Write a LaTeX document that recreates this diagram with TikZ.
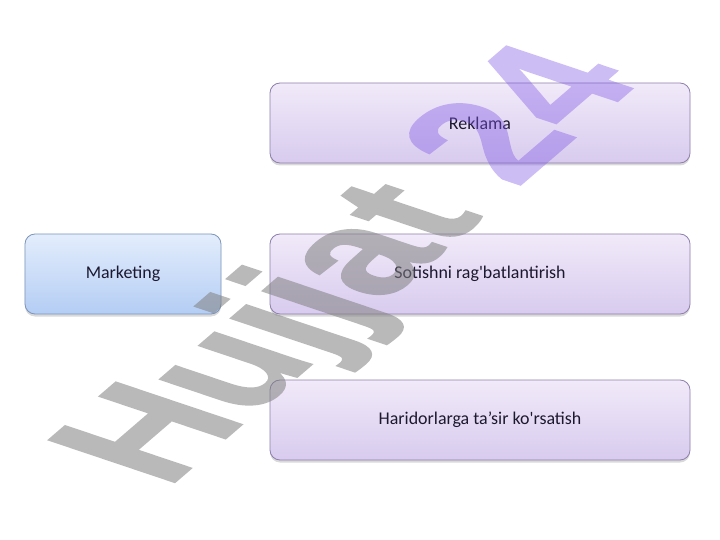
\documentclass[tikz,border=0pt]{standalone}
\usepackage{fontspec}
\setmainfont{Carlito}
\font\wmf="Liberation Sans/B:embolden=1.1" at 116bp
\usetikzlibrary{shadows}
\definecolor{pTop}{HTML}{F1EAF9}
\definecolor{pBot}{HTML}{D8CBEE}
\definecolor{pLine}{HTML}{8E80AC}
\definecolor{bTop}{HTML}{E3EDFC}
\definecolor{bBot}{HTML}{B4CDF4}
\definecolor{bLine}{HTML}{7E95BA}
\definecolor{wmGray}{HTML}{808080}
\definecolor{wmPurple}{HTML}{8059E6}
\definecolor{txt}{HTML}{1C1830}
\tikzset{
  box/.style={rounded corners=10bp, minimum height=80bp, inner sep=0pt,
    font=\fontsize{18}{21}\selectfont, text=txt,
    drop shadow={opacity=0.3, shadow xshift=0bp, shadow yshift=-2.5bp}},
  purplebox/.style={box, draw=pLine, line width=0.8bp, top color=pTop, bottom color=pBot, minimum width=420bp},
  bluebox/.style={box, draw=bLine, line width=0.8bp, top color=bTop, bottom color=bBot, minimum width=196bp},
  wm/.style={inner sep=0pt, transform shape, font=\wmf}
}
\begin{document}
\begin{tikzpicture}[x=1bp,y=-1bp]
\useasboundingbox (0,0) rectangle (720,540);
\node[purplebox] (rek) at (480,123) {\raisebox{-2bp}{Reklama}};
\node[purplebox] (sot) at (480,274) {\raisebox{-2bp}{Sotishni rag\textquotesingle batlantirish}};
\node[purplebox] (har) at (480,420) {\raisebox{-2bp}{Haridorlarga ta’sir ko\textquotesingle rsatish}};
\node[bluebox] (mkt) at (123,274) {\raisebox{-2bp}{Marketing}};
\begin{scope}[shift={(358,268)}, xscale=1.86, rotate=58]
  \begin{scope}[transparency group, opacity=0.55]
    \node[wm, text=wmGray] (wmA) at (0,0) {Hujjat\phantom{\ 24}};
  \end{scope}
  \begin{scope}[transparency group, opacity=0.4]
    \node[wm, text=wmPurple] (wmB) at (0,0) {\phantom{Hujjat\ }24};
  \end{scope}
\end{scope}
\end{tikzpicture}
\end{document}
